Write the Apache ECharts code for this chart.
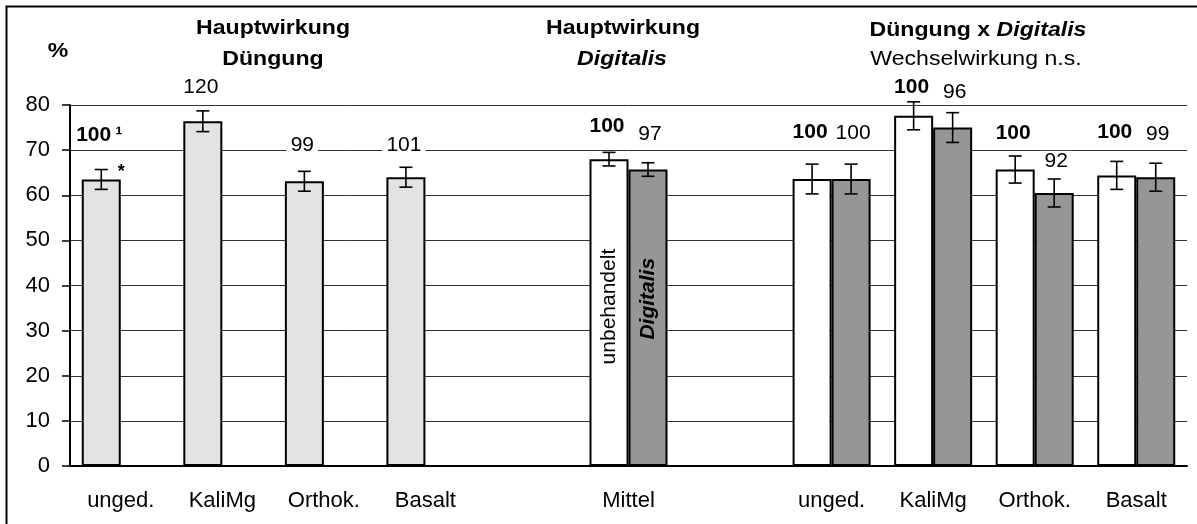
<!DOCTYPE html>
<html lang="de">
<head>
<meta charset="UTF-8">
<script src="https://cdn.jsdelivr.net/npm/echarts@6/dist/echarts.min.js"></script>
<title>Hauptwirkung Düngung / Digitalis</title>
<style>
  body { margin: 0; background: #fff; }
  #chart { width: 1197px; height: 524px; }
</style>
</head>
<body>
<div id="chart"></div>
<script>
// categories (empty strings are spacer slots between the blocks)
var categories = ['unged.', 'KaliMg', 'Orthok.', 'Basalt', '', 'Mittel', '', 'unged.', 'KaliMg', 'Orthok.', 'Basalt'];

// first bar of each slot (light grey in the left block, white = unbehandelt elsewhere)
var meanA = [63.5, 76.4, 63.1, 64.0, null, 68.0, null, 63.6, 77.6, 65.7, 64.4];
var errA  = [2.2, 2.3, 2.2, 2.2, null, 1.5, null, 3.3, 3.1, 3.0, 3.1];
// second bar (Digitalis)
var meanB = [null, null, null, null, null, 65.7, null, 63.6, 75.0, 60.5, 64.0];
var errB  = [null, null, null, null, null, 1.5, null, 3.3, 3.3, 3.1, 3.1];

// relative values written above the bars
var relA = ['100', '120', '99', '101', '', '100', '', '100', '100', '100', '100'];
var relB = ['', '', '', '', '', '97', '', '100', '96', '92', '99'];
var footA = ['¹', '', '', '', '', '', '', '', '', '', ''];
var sigA  = ['*', '', '', '', '', '', '', '', '', '', ''];

// height (in % units) where those numbers sit
var labelYA = [73.3, 84.0, 71.1, 71.1, null, 75.3, null, 74.0, 84.0, 73.8, 73.9];
var labelYB = [null, null, null, null, null, 73.5, null, 73.8, 82.9, 67.5, 73.5];

var yTicks = [0, 10, 20, 30, 40, 50, 60, 70, 80];

var FONT = '"Liberation Sans", Arial, sans-serif';
var BAR_W = 39;

function barItems(vals, isA) {
    return vals.map(function (v, i) {
        if (v == null) return null;
        var item = { value: v };
        if (isA) item.itemStyle = { color: i < 4 ? '#e3e3e3' : '#ffffff' };
        if (categories[i] === 'Mittel') {
            // offset is in the rotated frame: x runs upwards
            item.label = {
                show: true, position: 'inside', rotate: 90,
                formatter: isA ? 'unbehandelt' : 'Digitalis',
                fontFamily: FONT, fontSize: 21, color: '#000',
                fontWeight: isA ? 'normal' : 'bold',
                fontStyle: isA ? 'normal' : 'italic',
                offset: isA ? [6, 0] : [19, 0]
            };
        }
        return item;
    });
}

function errData(means) {
    var out = [];
    means.forEach(function (v, i) { if (v != null) out.push([i, v]); });
    return out;
}

function makeRender(errs, rel, labelY, side, isA) {
    return function (params, api) {
        var i = api.value(0);
        var m = api.value(1);
        var e = errs[i];
        var base = api.coord([i, m]);
        var cx = base[0] + side * BAR_W / 2;
        var top = api.coord([i, m + e])[1];
        var bot = api.coord([i, m - e])[1];
        var ls = { stroke: '#000', lineWidth: 1.6 };
        var ch = [
            { type: 'line', shape: { x1: cx, y1: top, x2: cx, y2: bot }, style: ls },
            { type: 'line', shape: { x1: cx - 6.5, y1: top, x2: cx + 6.5, y2: top }, style: ls },
            { type: 'line', shape: { x1: cx - 6.5, y1: bot, x2: cx + 6.5, y2: bot }, style: ls }
        ];
        if (rel[i]) {
            var bold = isA && rel[i] === '100';
            var txt = rel[i] + (isA && footA[i] ? '\u2009' + footA[i] : '');
            ch.push({
                type: 'text', x: cx + side * 2, y: api.coord([i, labelY[i]])[1],
                style: {
                    text: txt, fill: '#000', align: 'center', verticalAlign: 'middle',
                    font: (bold ? 'bold ' : '') + '21px ' + FONT,
                    backgroundColor: '#fff', padding: [0, 4]
                }
            });
        }
        if (isA && sigA[i]) {
            ch.push({
                type: 'text', x: cx + 20, y: top + 3,
                style: { text: sigA[i], fill: '#000', align: 'center', verticalAlign: 'middle', font: 'bold 18px ' + FONT }
            });
        }
        return { type: 'group', children: ch };
    };
}

var chart = echarts.init(document.getElementById('chart'));

var titleFont = 'bold 21px ' + FONT;
function title(x, y, text, font) {
    return { type: 'text', x: x, y: y, scaleX: 1.1,
             style: { text: text, font: font, fill: '#000', align: 'center', verticalAlign: 'middle' } };
}

var option = {
    animation: false,
    textStyle: { fontFamily: FONT },
    grid: { left: 70, right: 10, top: 105, bottom: 58 },
    xAxis: {
        type: 'category',
        data: categories,
        axisLine: { lineStyle: { color: '#000', width: 2 } },
        axisTick: { show: false },
        axisLabel: { interval: 0, fontSize: 22, color: '#000', margin: 24 }
    },
    yAxis: {
        type: 'value',
        min: yTicks[0], max: yTicks[yTicks.length - 1], interval: yTicks[1] - yTicks[0],
        axisLine: { show: true, lineStyle: { color: '#000', width: 2 } },
        axisTick: { show: true, length: 8, lineStyle: { color: '#000', width: 1.5 } },
        axisLabel: { fontSize: 22, color: '#000', margin: 20 },
        splitLine: { lineStyle: { color: '#333', width: 1 } }
    },
    graphic: [
        { type: 'rect', shape: { x: 6.5, y: 6.5, width: 1300, height: 600 },
          style: { fill: 'none', stroke: '#000', lineWidth: 2 } },
        title(58, 51, '%', titleFont),
        title(273, 28, 'Hauptwirkung', titleFont),
        title(273, 59, 'Düngung', titleFont),
        title(623, 28, 'Hauptwirkung', titleFont),
        title(622, 59, 'Digitalis', 'italic ' + titleFont),
        { type: 'text', x: 978, y: 30, scaleX: 1.1, style: {
            text: '{b|Düngung x }{bi|Digitalis}', align: 'center', verticalAlign: 'middle',
            rich: {
                b: { fontFamily: FONT, fontSize: 21, fontWeight: 'bold', fill: '#000' },
                bi: { fontFamily: FONT, fontSize: 21, fontWeight: 'bold', fontStyle: 'italic', fill: '#000' }
            } } },
        title(976, 59, 'Wechselwirkung n.s.', '21px ' + FONT)
    ],
    series: [
        {
            name: 'unbehandelt', type: 'bar', barWidth: BAR_W, barGap: 0,
            itemStyle: { borderColor: '#000', borderWidth: 2 },
            data: barItems(meanA, true)
        },
        {
            name: 'Digitalis', type: 'bar', barWidth: BAR_W, barGap: 0,
            itemStyle: { color: '#969696', borderColor: '#000', borderWidth: 2 },
            data: barItems(meanB, false)
        },
        {
            type: 'custom', clip: false, z: 5,
            renderItem: makeRender(errA, relA, labelYA, -1, true),
            data: errData(meanA)
        },
        {
            type: 'custom', clip: false, z: 5,
            renderItem: makeRender(errB, relB, labelYB, 1, false),
            data: errData(meanB)
        }
    ]
};
chart.setOption(option);
</script>
</body>
</html>
